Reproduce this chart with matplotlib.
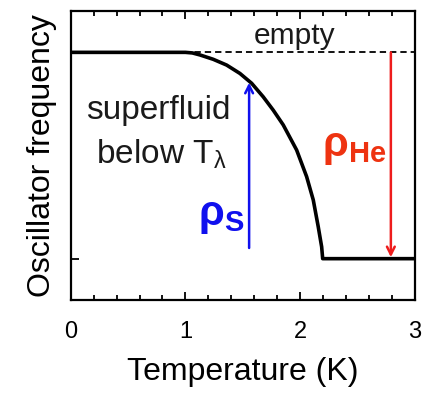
import matplotlib
matplotlib.use("Agg")
import matplotlib.pyplot as plt
from matplotlib.ticker import MultipleLocator, FixedLocator

plt.rcParams['font.family'] = ['Liberation Sans', 'DejaVu Sans']
plt.rcParams['mathtext.fontset'] = 'custom'
plt.rcParams['mathtext.rm'] = 'Liberation Sans'
plt.rcParams['mathtext.bf'] = 'Liberation Sans:bold'

# data (temperature in K, frequency in arbitrary units)
temp = [0.0, 1.0, 1.06, 1.127, 1.242, 1.359, 1.475, 1.577, 1.678, 1.765, 1.852,
        1.969, 2.056, 2.114, 2.157, 2.187, 2.196, 3.0]
freq = [0.857, 0.857, 0.855, 0.848, 0.833, 0.813, 0.784, 0.750, 0.703, 0.657, 0.606,
        0.519, 0.427, 0.346, 0.254, 0.184, 0.143, 0.143]
empty_level = 0.857
full_level = 0.143
rho_s_x, rho_s_from, rho_s_to = 1.555, 0.18, 0.752
rho_he_x = 2.79

fig = plt.figure(figsize=(4.23, 3.94), dpi=100)
ax = fig.add_axes([0.167, 0.2386, 0.814, 0.7334])

ax.plot([0, 3], [empty_level, empty_level], color='black', lw=1.3, ls=(0, (3.5, 2.2)))
ax.plot(temp, freq, color='black', lw=2.6, solid_joinstyle='round')

ax.annotate('', xy=(rho_s_x, rho_s_to), xytext=(rho_s_x, rho_s_from),
            arrowprops=dict(arrowstyle='->', color='#1010ee', lw=1.8,
                            shrinkA=0, shrinkB=0, mutation_scale=14))
ax.annotate('', xy=(rho_he_x, full_level + 0.005), xytext=(rho_he_x, empty_level),
            arrowprops=dict(arrowstyle='->', color='#ee1c1c', lw=1.8,
                            shrinkA=0, shrinkB=0, mutation_scale=14))

txt = '#1a1a1a'
ax.text(1.955, 0.915, 'empty', fontsize=21.5, ha='center', va='center', color=txt)
ax.text(0.76, 0.655, 'superfluid', fontsize=24, ha='center', va='center', color=txt)
ax.text(0.79, 0.505, r'below T$_{\mathregular{λ}}$', fontsize=24, ha='center', va='center', color=txt)
ax.text(1.31, 0.29, r'$\mathbf{ρ}_{\mathbf{S}}$', fontsize=30, ha='center', va='center', color='#1010ee')
ax.text(2.47, 0.53, r'$\mathbf{ρ}_{\mathbf{He}}$', fontsize=30, ha='center', va='center', color='#ee3311')

ax.set_xlim(0, 3)
ax.set_ylim(0, 1)
ax.xaxis.set_major_locator(MultipleLocator(1))
ax.xaxis.set_minor_locator(MultipleLocator(0.2))
ax.yaxis.set_major_locator(FixedLocator([full_level]))
ax.set_yticklabels([])
ax.tick_params(axis='x', which='both', direction='in', top=True, labelsize=17, pad=15)
ax.tick_params(axis='x', which='major', length=6, width=1.3)
ax.tick_params(axis='x', which='minor', length=3.5, width=1.3)
ax.tick_params(axis='y', which='major', direction='in', length=6, width=1.3)
for s in ax.spines.values():
    s.set_linewidth(1.6)

ax.set_xlabel('Temperature (K)', fontsize=23, labelpad=10)
ax.set_ylabel('Oscillator frequency', fontsize=23, labelpad=6)

fig.savefig('out.png', dpi=100)
